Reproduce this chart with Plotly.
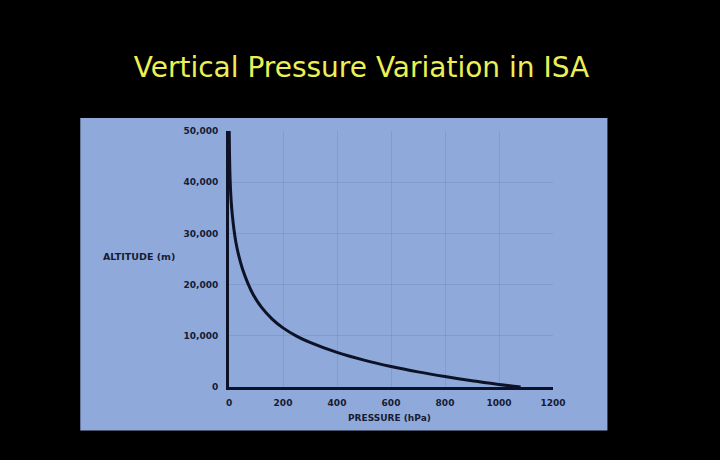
import plotly.graph_objects as go

# Data (pressure in hPa, altitude in m)
pressure_hpa = [1080, 1000, 900, 800, 700, 600, 500, 400, 300, 250, 200, 160, 120, 90, 70, 50, 35, 25, 18, 12, 8, 5, 3, 1.5, 0.8]
altitude_m = [0, 480, 1240, 2040, 2950, 4000, 5240, 6750, 8710, 9950, 11550, 13270, 15600, 18020, 20250, 23050, 25890, 28430, 30910, 33750, 36300, 39240, 42400, 46700, 50000]

x_ticks = [0, 200, 400, 600, 800, 1000, 1200]
x_tick_labels = ["0", "200", "400", "600", "800", "1000", "1200"]
y_ticks = [0, 10000, 20000, 30000, 40000, 50000]
y_tick_labels = ["0", "10,000", "20,000", "30,000", "40,000", "50,000"]

title_text = "Vertical Pressure Variation in ISA"
x_title = "PRESSURE (hPa)"
y_title = "ALTITUDE (m)"

ink = "#0d1226"
label_color = "#161b33"
tick_font = dict(family="DejaVu Sans", size=9, color=label_color, weight="bold")
grid_color = "rgba(70,90,140,0.16)"

fig = go.Figure()
fig.add_trace(go.Scatter(
    x=pressure_hpa, y=altitude_m, mode="lines",
    line=dict(color=ink, width=3, shape="spline", smoothing=0.8),
    hoverinfo="skip", showlegend=False,
))

# panel background (light blue card)
fig.add_shape(type="rect", xref="paper", yref="paper",
              x0=-0.459, x1=1.168, y0=-0.170, y1=1.051,
              fillcolor="#8fa9da", line=dict(width=0), layer="below")

fig.update_layout(
    width=720, height=460,
    paper_bgcolor="black", plot_bgcolor="rgba(0,0,0,0)",
    margin=dict(l=229, r=167, t=131, b=73),
    title=dict(text=title_text, x=0.502, xanchor="center", y=0.853, yanchor="middle",
               xref="container", yref="container",
               font=dict(family="DejaVu Sans", size=28, color="#ecf055")),
    xaxis=dict(range=[0, 1200], tickvals=x_ticks, ticktext=x_tick_labels,
               showline=True, linecolor=ink, linewidth=3,
               showgrid=True, gridcolor=grid_color, gridwidth=1,
               zeroline=False, ticks="outside", ticklen=5, tickcolor="rgba(0,0,0,0)",
               tickfont=tick_font, fixedrange=True),
    yaxis=dict(range=[0, 50000], tickvals=y_ticks, ticktext=y_tick_labels,
               showline=True, linecolor=ink, linewidth=3,
               showgrid=True, gridcolor=grid_color, gridwidth=1,
               zeroline=False, ticks="outside", ticklen=6, tickcolor="rgba(0,0,0,0)",
               tickfont=tick_font, fixedrange=True),
    annotations=[
        dict(text=x_title, xref="paper", yref="paper", x=0.495, y=-0.123,
             xanchor="center", yanchor="middle", showarrow=False,
             font=dict(family="DejaVu Sans", size=9, color=label_color, weight="bold")),
        dict(text=y_title, xref="paper", yref="paper", x=-0.160, y=0.511,
             xanchor="right", yanchor="middle", showarrow=False,
             font=dict(family="DejaVu Sans", size=9.5, color=label_color, weight="bold")),
    ],
)

fig.write_html(
    "out.html",
    config={"displayModeBar": False},
    post_script="document.body.style.margin='0';document.body.style.background='black';",
)
